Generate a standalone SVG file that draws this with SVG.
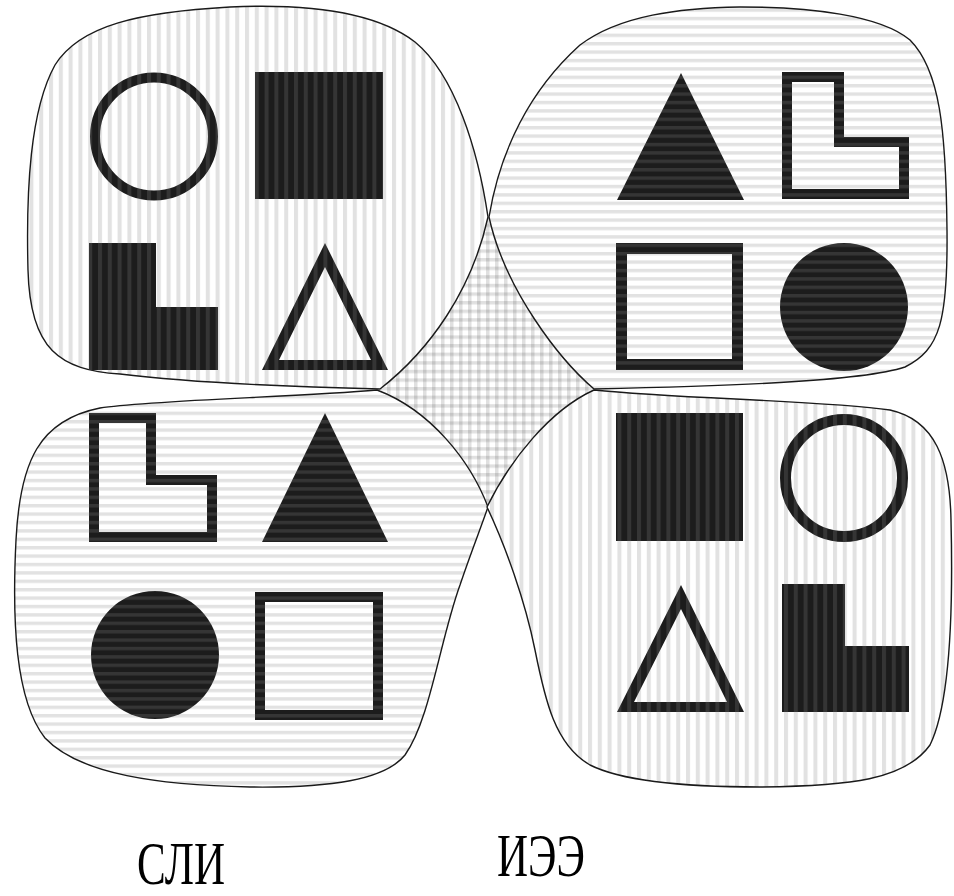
<svg xmlns="http://www.w3.org/2000/svg" width="954" height="896" viewBox="0 0 954 896">
<style>
.blob{stroke:#1a1a1a;stroke-width:1.4;stroke-linejoin:round}
.v{fill:url(#pv)}
.h{fill:url(#ph)}
.vd{fill:url(#pvd)}
.hd{fill:url(#phd)}
.vs{fill:none;stroke:url(#pvd)}
.hs{fill:none;stroke:url(#phd)}
.lbl{font-family:"Liberation Serif","Times New Roman",serif;font-size:61px;fill:#000}
</style>
<defs>
<pattern id="pv" patternUnits="userSpaceOnUse" width="9.8" height="10"><rect width="9.8" height="10" fill="#fff"/><rect width="4" height="10" fill="#e2e2e2"/></pattern>
<pattern id="ph" patternUnits="userSpaceOnUse" width="10" height="8.4"><rect width="10" height="8.4" fill="#fff"/><rect width="10" height="3.4" fill="#e2e2e2"/></pattern>
<pattern id="pvd" patternUnits="userSpaceOnUse" width="9.8" height="10"><rect width="9.8" height="10" fill="#1c1c1c"/><rect width="4" height="10" fill="#353535"/></pattern>
<pattern id="phd" patternUnits="userSpaceOnUse" width="10" height="8.4"><rect width="10" height="8.4" fill="#1c1c1c"/><rect width="10" height="3.4" fill="#353535"/></pattern>
<pattern id="pg" patternUnits="userSpaceOnUse" width="9" height="8.6"><rect width="9" height="8.6" fill="#fff"/><rect width="3.5" height="8.6" fill="#000" fill-opacity="0.12"/><rect width="9" height="3.4" fill="#000" fill-opacity="0.12"/></pattern>
</defs>
<rect width="954" height="896" fill="#fff"/>

<g id="overlap">
<polygon points="488,217 380,389 488,507 594,389" fill="url(#pg)"/>
</g>

<g id="top-left">
<path class="blob v" d="M380,389 C340,388 200,384 120,374 C60,370 30,350 28,270 C26,190 30,110 55,65 C80,25 140,12 230,7 C320,3 380,15 415,42 C455,75 478,150 488,217 C472,290 430,350 380,389 Z"/>
<circle class="vs" cx="154" cy="136.5" r="59" stroke-width="10"/>
<rect class="vd" x="255" y="72" width="128" height="127"/>
<polygon class="vd" points="89,243 156,243 156,307 218,307 218,370 89,370"/>
<path class="vd" fill-rule="evenodd" d="M325,243 L262,370 L388,370 Z M325,267 L279,360 L371,360 Z"/>
</g>

<g id="top-right">
<path class="blob h" d="M489,217 C500,150 530,90 580,45 C620,15 680,8 740,7 C810,7 880,15 910,40 C940,70 946,130 947,230 C948,320 940,350 905,367 C860,382 720,386 594,389 C560,360 505,290 489,217 Z"/>
<polygon class="hd" points="681,73 617,200 744,200"/>
<path class="hd" fill-rule="evenodd" d="M782,72 L844,72 L844,137 L909,137 L909,199 L782,199 Z M792,82 L834,82 L834,147 L899,147 L899,189 L792,189 Z"/>
<rect class="hs" x="621.5" y="248.5" width="116" height="116" stroke-width="11"/>
<circle class="hd" cx="844" cy="307" r="64"/>
</g>

<g id="bottom-left">
<path class="blob h" d="M377,390 C300,397 150,400 100,408 C40,420 20,460 16,540 C12,620 15,700 45,738 C80,775 160,785 250,787 C330,788 385,780 405,755 C430,720 440,640 460,585 C470,555 480,530 488,507 C470,460 430,410 377,390 Z"/>
<path class="hd" fill-rule="evenodd" d="M89,413 L156,413 L156,475 L217,475 L217,542 L89,542 Z M99,423 L146,423 L146,485 L207,485 L207,532 L99,532 Z"/>
<polygon class="hd" points="325,413 262,542 388,542"/>
<circle class="hd" cx="155" cy="655" r="64"/>
<rect class="hs" x="260" y="597" width="118" height="118" stroke-width="10"/>
</g>

<g id="bottom-right">
<path class="blob v" d="M594,390 C680,399 820,400 890,410 C935,420 950,460 951,520 C953,600 952,700 930,745 C905,780 850,786 760,787 C680,787 620,780 590,765 C555,745 545,700 535,650 C525,600 505,545 487,507 C510,460 550,410 594,390 Z"/>
<rect class="vd" x="616" y="413" width="127" height="128"/>
<circle class="vs" cx="844" cy="478" r="58.5" stroke-width="11"/>
<path class="vd" fill-rule="evenodd" d="M681,585 L617,712 L744,712 Z M681,609 L634,702 L727,702 Z"/>
<polygon class="vd" points="782,584 845,584 845,646 909,646 909,712 782,712"/>
</g>

<g id="labels">
<text class="lbl" x="137" y="884" textLength="88" lengthAdjust="spacingAndGlyphs">СЛИ</text>
<text class="lbl" x="497" y="876" textLength="88" lengthAdjust="spacingAndGlyphs">ИЭЭ</text>
</g>
</svg>
